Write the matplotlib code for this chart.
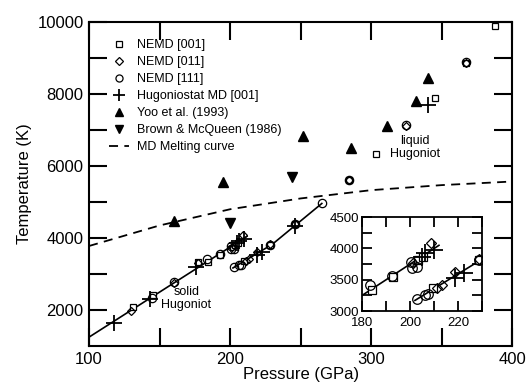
import numpy as np
import matplotlib
matplotlib.use("Agg")
from matplotlib import pyplot as plt

plt.rcParams['font.family'] = ['Liberation Sans', 'DejaVu Sans']

# NEMD [001] (squares)
sq_p = [131, 145, 177, 184, 193, 203.3, 205.4, 209.6, 228.5, 246, 284, 303.5, 345, 367, 388]
sq_t = [2080, 2420, 3330, 3340, 3540, 3814, 3862, 3368, 3814, 4390, 5610, 6330, 7880, 8850, 9900]
# NEMD [011] (diamonds)
di_p = [130, 160, 177, 201, 208.8, 211, 213.3, 218.8, 228.5, 246, 284, 325, 367]
di_t = [1970, 2750, 3300, 3760, 4085, 3370, 3415, 3620, 3830, 4400, 5600, 7110, 8870]
# NEMD [111] (circles)
ci_p = [144.7, 160, 183.3, 192.5, 200.4, 200.8, 202.9, 202.9, 206.3, 207.5, 228.5, 246, 265, 284, 325, 367]
ci_t = [2330, 2770, 3415, 3560, 3782, 3690, 3707, 3192, 3256, 3265, 3810, 4380, 4970, 5620, 7130, 8880]
# Hugoniostat MD [001] (plus)
hu_p = [118, 143, 176, 205, 206.3, 210, 218.8, 222.5, 246, 340.4]
hu_t = [1640, 2300, 3190, 3860, 3926, 3974, 3530, 3610, 4330, 7690]
# Yoo et al. (1993)
yoo_p = [160, 195, 252, 286, 311, 332, 340]
yoo_t = [4470, 5550, 6830, 6500, 7100, 7800, 8450]
# Brown & McQueen (1986)
bm_p = [200, 244]
bm_t = [4420, 5700]
# MD melting curve
melt_p = [100, 150, 200, 250, 300, 350, 400]
melt_t = [3780, 4350, 4800, 5100, 5330, 5470, 5570]
# fitted solid Hugoniot lines
fit1_p = [100, 212]
fit1_t = [1250, 4050]
fit2_p = [202, 230, 265]
fit2_t = [3170, 3830, 4960]


def draw(ax, ms=1.0, full=True):
    ax.plot(fit1_p, fit1_t, color='k', lw=1.2, zorder=1)
    ax.plot(fit2_p, fit2_t, color='k', lw=1.2, zorder=1)
    ax.plot(sq_p, sq_t, ls='none', marker='s', ms=5 * ms, mfc='white', mec='k', mew=0.9, label='NEMD [001]')
    ax.plot(di_p, di_t, ls='none', marker='D', ms=4.5 * ms, mfc='none', mec='k', mew=0.9, label='NEMD [011]')
    ax.plot(ci_p, ci_t, ls='none', marker='o', ms=6 * ms, mfc='none', mec='k', mew=0.9, label='NEMD [111]')
    ax.plot(hu_p, hu_t, ls='none', marker='+', ms=11 * ms, mec='k', mew=1.3, label='Hugoniostat MD [001]')
    if full:
        ax.plot(yoo_p, yoo_t, ls='none', marker='^', ms=7.5 * ms, color='k', label='Yoo et al. (1993)')
        ax.plot(bm_p, bm_t, ls='none', marker='v', ms=7.5 * ms, color='k', label='Brown & McQueen (1986)')
        ax.plot(melt_p, melt_t, color='k', ls=(0, (5, 3.5)), lw=1.3, label='MD Melting curve')
    for s in ax.spines.values():
        s.set_linewidth(1.5)


fig = plt.figure(figsize=(5.27, 3.85), dpi=100)
ax = fig.add_axes([0.169, 0.101, 0.803, 0.842])
draw(ax)
ax.set_xlim(100, 400)
ax.set_ylim(1000, 10000)
ax.set_xticks([100, 200, 300, 400])
ax.set_xticks([150, 250, 350], minor=True)
ax.set_yticks([2000, 4000, 6000, 8000, 10000])
ax.set_yticks([3000, 5000, 7000, 9000], minor=True)
ax.tick_params(which='both', direction='in', top=True, right=True, length=13, width=1.5, labelsize=12, pad=4)
ax.set_xlabel('Pressure (GPa)', fontsize=12, labelpad=0)
ax.set_ylabel('Temperature (K)', fontsize=12, labelpad=4)

ax.text(169, 2330, 'solid\nHugoniot', fontsize=9, ha='center', va='center', linespacing=1.1)
ax.text(331, 6520, 'liquid\nHugoniot', fontsize=9, ha='center', va='center', linespacing=1.1)

leg = ax.legend(loc='upper left', bbox_to_anchor=(0.018, 0.985), frameon=False, fontsize=9,
                handlelength=1.6, handletextpad=0.6, labelspacing=0.4, borderaxespad=0.6,
                markerscale=0.85)

ins = fig.add_axes([0.687, 0.192, 0.228, 0.244])
draw(ins, ms=1.15, full=False)
ins.set_xlim(180, 230)
ins.set_ylim(3000, 4500)
ins.set_xticks([180, 200, 220])
ins.set_xticks([190, 210, 230], minor=True)
ins.set_yticks([3000, 3500, 4000, 4500])
ins.set_yticks([3250, 3750, 4250], minor=True)
ins.tick_params(which='both', direction='in', top=True, right=True, length=7, width=1.3, labelsize=9.5, pad=2)
ins.tick_params(axis='x', pad=4.5)
for s in ins.spines.values():
    s.set_linewidth(1.3)

fig.savefig('out.png', dpi=100)
